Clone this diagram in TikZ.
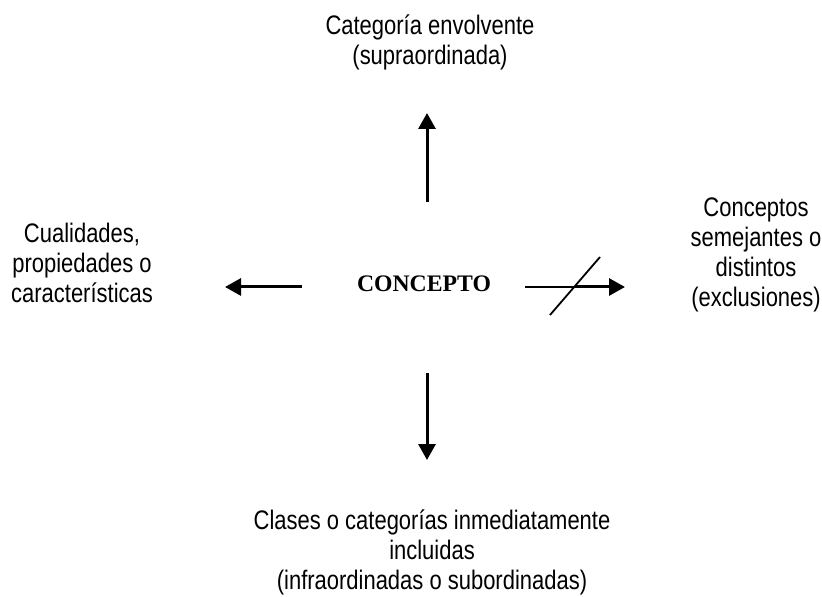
\documentclass[tikz,border=0pt]{standalone}
\usepackage{fontspec}
\setmainfont{Liberation Sans}[FakeStretch=0.82]
\newfontfamily\conceptfont{Liberation Serif}
\usetikzlibrary{arrows.meta}
\tikzset{
  lbl/.style={align=center, inner sep=0pt, anchor=north, font=\fontsize{13.4}{15}\selectfont},
  bigarrow/.style={line width=1.5pt, -{Triangle[length=8pt,width=8.5pt]}},
  thinline/.style={line width=0.9pt},
}
\begin{document}
\begin{tikzpicture}[x=0.5pt,y=-0.5pt]
\useasboundingbox (0,0) rectangle (822,597);
\node[lbl] (top) at (430,14) {Categoría envolvente\\(supraordinada)};
\node[lbl] (left) at (82,223) {Cualidades,\\propiedades o\\características};
\node[lbl] (right) at (756,197) {Conceptos\\semejantes o\\distintos\\(exclusiones)};
\node[lbl] (bottom) at (432,509) {Clases o categorías inmediatamente\\incluidas\\(infraordinadas o subordinadas)};
\node[inner sep=0pt, font=\conceptfont\bfseries\fontsize{11.85}{14}\selectfont] (concept) at (424,284) {CONCEPTO};
\coordinate (u1) at (427,202); \coordinate (u2) at (427,113);
\coordinate (l1) at (302,287); \coordinate (l2) at (225,287);
\coordinate (d1) at (427,373); \coordinate (d2) at (427,460);
\coordinate (r1) at (525,287); \coordinate (r2) at (575,287); \coordinate (r3) at (625,287);
\coordinate (s1) at (550,315); \coordinate (s2) at (600,257);
\draw[bigarrow] (u1) -- (u2);
\draw[bigarrow] (l1) -- (l2);
\draw[bigarrow] (d1) -- (d2);
\draw[thinline] (r1) -- (r2);
\draw[bigarrow] (r2) -- (r3);
\draw[thinline] (s1) -- (s2);
\end{tikzpicture}
\end{document}
